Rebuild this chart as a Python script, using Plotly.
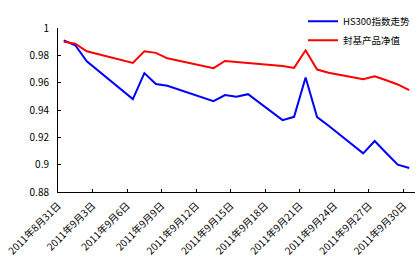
import pandas as pd
import plotly.graph_objects as go

dates = ["2011-08-31", "2011-09-01", "2011-09-02", "2011-09-05", "2011-09-06", "2011-09-07",
         "2011-09-08", "2011-09-09", "2011-09-13", "2011-09-14", "2011-09-15", "2011-09-16",
         "2011-09-19", "2011-09-20", "2011-09-21", "2011-09-22", "2011-09-23", "2011-09-26",
         "2011-09-27", "2011-09-28", "2011-09-29", "2011-09-30"]
hs300 = [0.991, 0.9874, 0.9757, 0.9547, 0.948, 0.967, 0.959, 0.9577, 0.9465, 0.9509, 0.9497,
         0.9516, 0.9326, 0.935, 0.9638, 0.9348, 0.9285, 0.9083, 0.9173, 0.9085, 0.900, 0.8976]
fund_nav = [0.990, 0.9886, 0.983, 0.9765, 0.9745, 0.983, 0.9818, 0.9778, 0.9706, 0.9759, 0.9752,
            0.9742, 0.9722, 0.9708, 0.9837, 0.9696, 0.9672, 0.9626, 0.9647, 0.9618, 0.9587, 0.9545]
series_names = ["HS300指数走势", "封基产品净值"]
tick_dates = ["2011-08-31", "2011-09-03", "2011-09-06", "2011-09-09", "2011-09-12", "2011-09-15",
              "2011-09-18", "2011-09-21", "2011-09-24", "2011-09-27", "2011-09-30"]
y_ticks = [0.88, 0.9, 0.92, 0.94, 0.96, 0.98, 1.0]
y_labels = ["0.88", "0.9", "0.92", "0.94", "0.96", "0.98", "1"]

# each day occupies a band; points sit at the middle of their day
x = pd.to_datetime(dates) + pd.Timedelta(hours=12)
tick_text = [f"{d.year}年{d.month}月{d.day}日" for d in pd.to_datetime(tick_dates)]

font = "Noto Sans CJK SC"
fig = go.Figure()
fig.add_trace(go.Scatter(x=x, y=hs300, mode="lines", name=series_names[0],
                         line=dict(color="#0000FF", width=2)))
fig.add_trace(go.Scatter(x=x, y=fund_nav, mode="lines", name=series_names[1],
                         line=dict(color="#FF0000", width=2)))

fig.update_layout(
    width=419, height=262,
    margin=dict(l=58, r=4, t=28, b=70, autoexpand=False),
    paper_bgcolor="white", plot_bgcolor="white",
    font=dict(family=font, size=10, color="black"),
    showlegend=True,
    legend=dict(x=1.0, y=1.13, xanchor="right", yanchor="top",
                bgcolor="rgba(0,0,0,0)", font=dict(size=9.5), tracegroupgap=0,
                itemwidth=30),
)
fig.update_xaxes(
    type="date", automargin=False,
    range=["2011-08-31", "2011-10-01"],
    tickvals=pd.to_datetime(tick_dates), ticktext=tick_text,
    tickangle=-45, tickfont=dict(size=10),
    ticklabelstandoff=3,
    showline=True, linecolor="black", linewidth=1,
    ticks="inside", ticklen=3, tickcolor="black",
    showgrid=False, zeroline=False,
)
fig.update_yaxes(
    range=[0.88, 1.0], automargin=False,
    tickvals=y_ticks, ticktext=y_labels,
    ticklabelstandoff=6,
    showline=True, linecolor="black", linewidth=1,
    ticks="inside", ticklen=3, tickcolor="black",
    showgrid=False, zeroline=False,
)

fig.write_html("out.html")
